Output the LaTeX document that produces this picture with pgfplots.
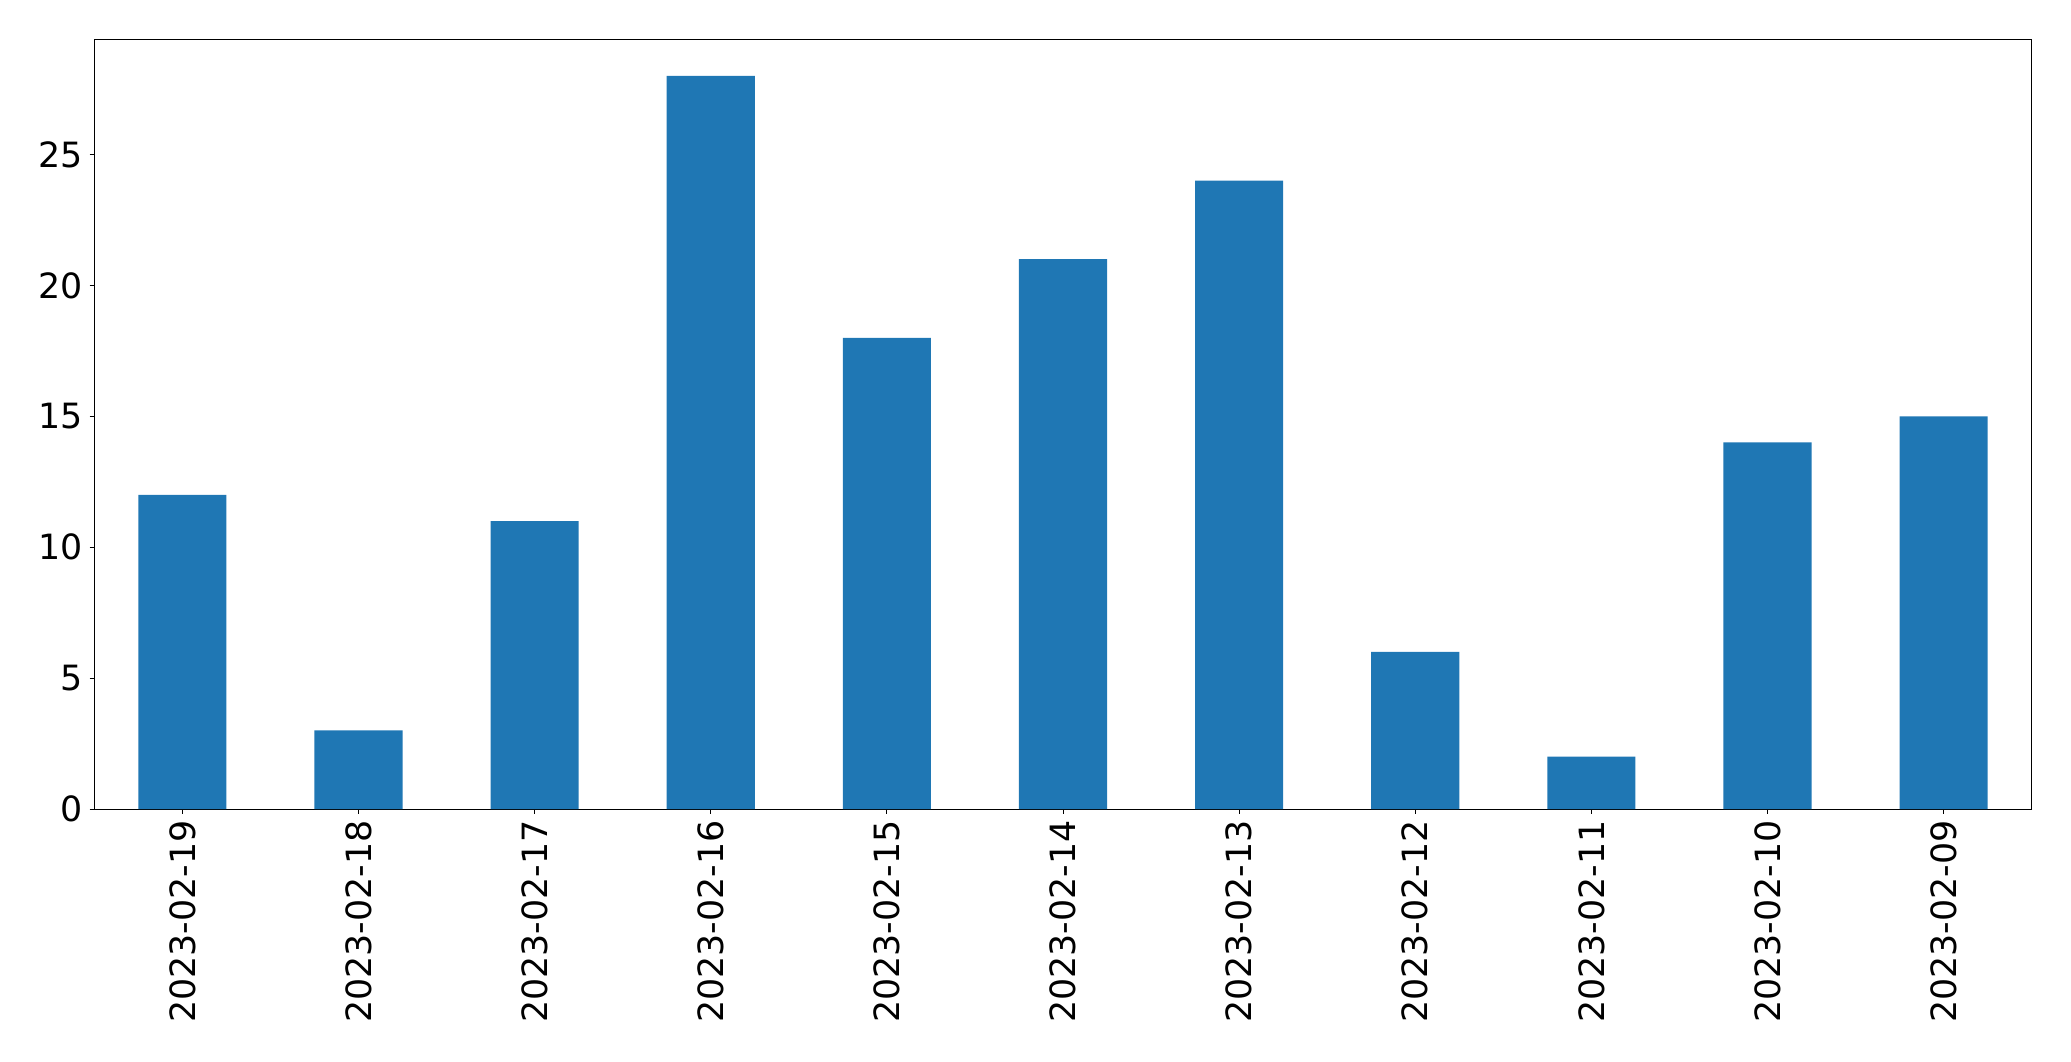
\documentclass[border=0pt]{standalone}
\usepackage{pgfplots}
\pgfplotsset{compat=1.18}
\usepackage{fontspec}
\setmainfont{DejaVu Sans}
\definecolor{barblue}{HTML}{1F77B4}
\begin{document}
\begin{tikzpicture}
\path[use as bounding box] (-47.15pt,-126pt) rectangle (988.35pt,404.5pt);
\begin{axis}[
  at={(0,0)}, anchor=south west,
  scale only axis,
  width=968.7pt, height=384.85pt,
  xmin=-0.5, xmax=10.5, ymin=0, ymax=29.4,
  xtick={0,...,10},
  xticklabels={2023-02-19,2023-02-18,2023-02-17,2023-02-16,2023-02-15,2023-02-14,2023-02-13,2023-02-12,2023-02-11,2023-02-10,2023-02-09},
  ytick={0,5,10,15,20,25},
  tick align=outside,
  major tick length=2.3pt,
  tick style={black, line width=0.5pt},
  axis line style={black, line width=0.5pt},
  x tick label style={rotate=90, anchor=east, font=\fontsize{17.4}{20}\selectfont},
  y tick label style={font=\fontsize{17.4}{20}\selectfont},
  /pgf/number format/assume math mode=true,
  xtick pos=bottom, ytick pos=left,
]
\addplot[ybar, bar width=0.5, fill=barblue, draw=none] coordinates {
(0,12) (1,3) (2,11) (3,28) (4,18) (5,21) (6,24) (7,6) (8,2) (9,14) (10,15)
};
\end{axis}
\end{tikzpicture}
\end{document}
